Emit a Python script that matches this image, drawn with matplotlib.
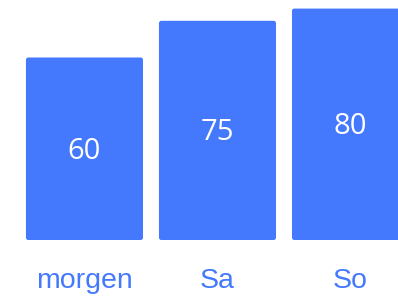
import numpy as np
import matplotlib
matplotlib.use('Agg')
import matplotlib.pyplot as plt
import matplotlib.transforms as mtransforms
from matplotlib.patches import FancyBboxPatch

# Daten
categories = ['morgen', 'Sa', 'So']
values = [60, 75, 80]

bar_color = '#4479FE'
base = -14.6   # Unterkante der Balken (Achsenboden)
top = 83.5

fig = plt.figure(figsize=(3.98, 2.97), dpi=100)
ax = fig.add_axes([0, 57 / 297, 1, 240 / 297])
ax.set_xlim(-0.635, 2.357)
ax.set_ylim(base, top)

x = np.arange(len(categories))
heights = np.array(values) - base
bars = ax.bar(x, heights, bottom=base, width=0.88, color=bar_color)

# Balken durch abgerundete Rechtecke ersetzen
px_x = 133.0          # Pixel pro x-Einheit
px_y = 240.0 / (top - base)
for b in bars:
    b.set_visible(False)
    r = FancyBboxPatch((b.get_x(), b.get_y()), b.get_width(), b.get_height(),
                       boxstyle='round,pad=0,rounding_size=0.018',
                       mutation_aspect=px_x / px_y,
                       facecolor=bar_color, edgecolor='none', clip_on=False)
    ax.add_patch(r)

# Werte in der Mitte der Balken (leicht nach unten versetzt)
shift = mtransforms.offset_copy(ax.transData, fig=fig, x=0, y=-2.5, units='dots')
for xi, v in zip(x, values):
    ax.text(xi, (base + v) / 2, str(v), ha='center', va='center',
            color='white', fontsize=21, family='Open Sans', transform=shift)

ax.set_xticks(x)
ax.set_xticklabels(categories, fontsize=20.5, color=bar_color, family='Liberation Sans')
ax.tick_params(axis='x', length=0, pad=20)
ax.set_yticks([])
for s in ax.spines.values():
    s.set_visible(False)

fig.savefig('out.png', dpi=100)
